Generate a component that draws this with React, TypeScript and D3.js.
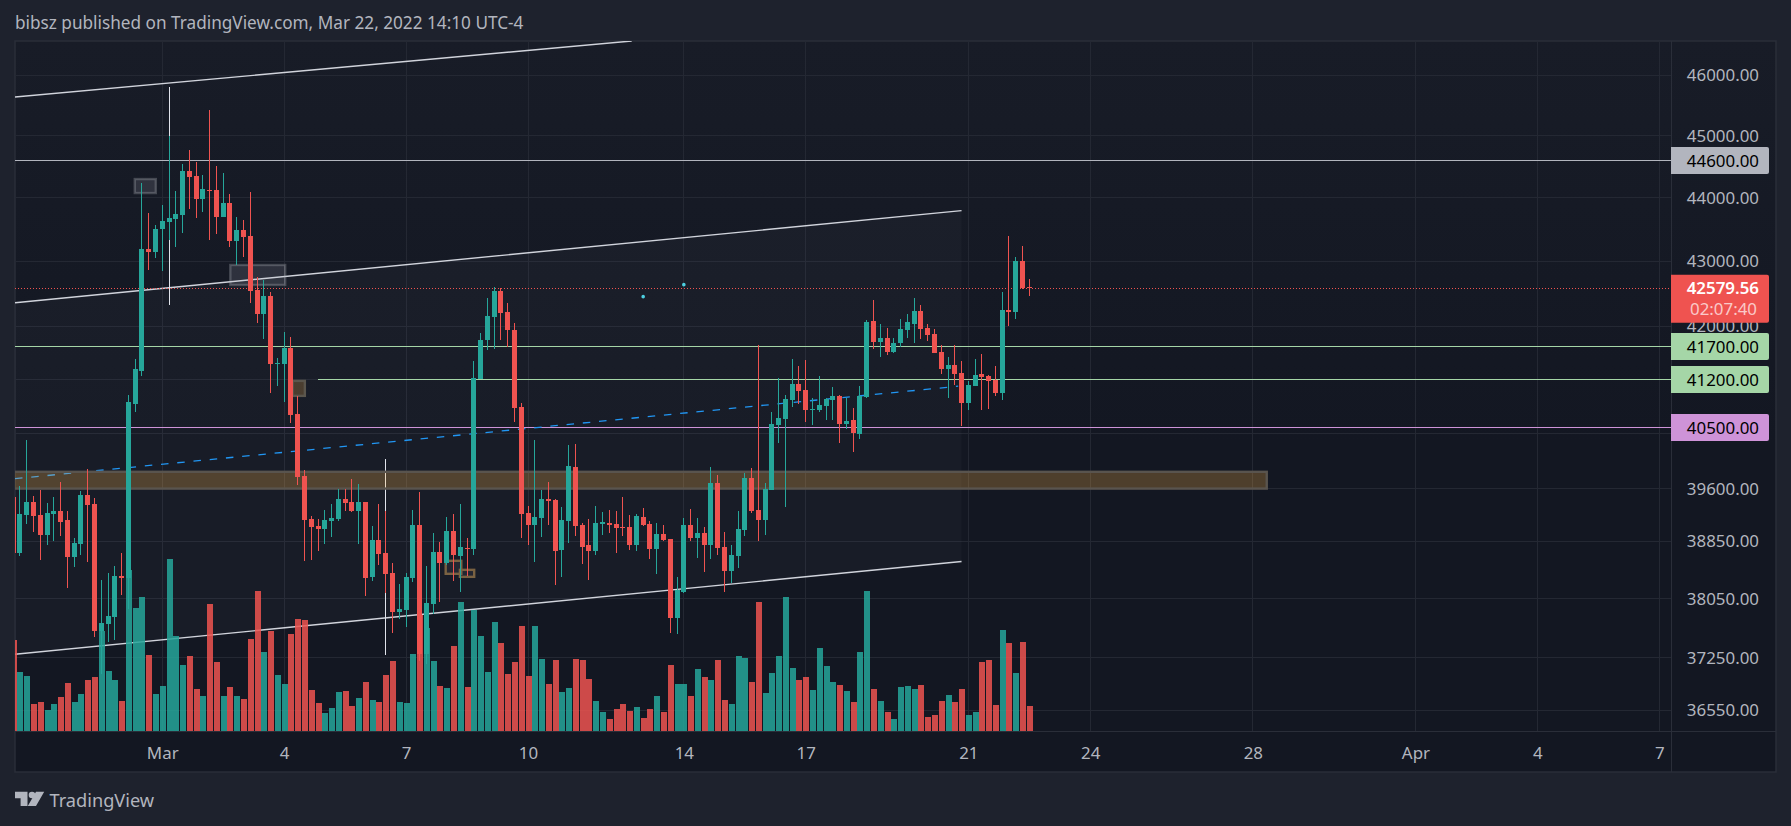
import React, { useEffect, useRef } from "react";
import { axisBottom, axisRight, format, scaleLinear, scaleLog, select } from "d3";

// 4h candles, first one is cut by the left edge of the pane
const opens = [
  39483, 38695, 39227, 39412, 39227, 38944, 39241, 39284, 39156, 38635, 38817, 39512, 39383, 37613, 37709, 37804, 38370, 38342, 40835, 41326,
  43191, 43144, 43505, 43615, 43662, 43726, 44428, 44347, 43980, 44123, 44123, 43694, 43916, 43316, 43489, 43395, 42555, 42187, 42463, 41431,
  41431, 41671, 40687, 39785, 39170, 39071, 39028, 39142, 39170, 39454, 39412, 39284, 39412, 38356, 38873, 38691, 38411, 37872, 37899, 38342,
  39085, 37301, 37982, 38705, 38551, 39000, 38649, 38761, 38747, 41206, 41792, 42141, 42540, 42217, 41943, 40790, 39255, 39085, 39184, 39454,
  39440, 38733, 39142, 39914, 39085, 38803, 38719, 39099, 39113, 39099, 39057, 39057, 38803, 39198, 39099, 38747, 38958, 38887, 37790, 38147,
  39085, 38901, 38972, 38803, 39684, 38775, 38439, 38649, 39014, 39756, 39298, 39156, 39583, 40526, 40614, 40894, 41132, 41042, 40746, 40746,
  40805, 40894, 40953, 40540, 40599, 40394, 40938, 42080, 41761, 41822, 41611, 41746, 41943, 42034, 42233, 41973, 41882, 41611, 41356, 41416,
  41296, 40850, 41102, 41281, 41251, 41191, 40998, 42248, 42217, 43003, 42602,
];
const highs = [
  39511, 39645, 40306, 39497, 39583, 39397, 39483, 39698, 39284, 38901, 39569, 39885, 39469, 38314, 38411, 38509, 38691, 40968, 41506, 44235,
  43758, 43567, 43885, 44995, 44107, 44540, 44767, 44572, 44363, 45421, 44508, 44396, 44059, 43694, 43646, 44091, 42755, 42709, 42524, 41521,
  41913, 41837, 40953, 39871, 39213, 39170, 39298, 39383, 39597, 39597, 39741, 39669, 39412, 39071, 39383, 39284, 38551, 38258, 38411, 39298,
  39554, 38509, 38972, 38845, 39198, 39241, 39383, 38901, 41476, 41898, 42432, 42602, 42586, 42355, 42049, 40850, 39355, 40306, 39583, 39698,
  39454, 39340, 40233, 40248, 39113, 39170, 39355, 39270, 39298, 39284, 39483, 39227, 39241, 39326, 39142, 39113, 39085, 38887, 38356, 39184,
  39312, 39184, 39057, 39914, 39799, 38986, 38803, 39284, 39828, 39900, 41716, 39684, 40716, 41221, 40968, 41506, 41401, 41491, 40924, 41251,
  40924, 41087, 40968, 40924, 40776, 41102, 42095, 42401, 42034, 41973, 41822, 42110, 42187, 42432, 42324, 42034, 41958, 41716, 41536, 41716,
  41476, 41176, 41506, 41581, 41266, 41401, 42524, 43395, 43066, 43238, 42725,
];
const lows = [
  38649, 38640, 39100, 38986, 38593, 38803, 38859, 38929, 38203, 38495, 38663, 38565, 37532, 37032, 37464, 37491, 38106, 37913, 40716, 41251,
  42864, 43050, 42849, 43332, 43222, 43442, 43821, 43678, 43773, 43332, 43426, 43694, 43222, 42941, 43066, 42355, 42049, 41807, 40998, 41102,
  40864, 40555, 39655, 38579, 38593, 38719, 38817, 38915, 39142, 39284, 39270, 38817, 38092, 38300, 38523, 38134, 37586, 37777, 37668, 38286,
  37206, 37166, 37845, 38010, 38523, 38300, 38147, 38370, 38663, 41206, 41641, 41656, 41792, 41686, 40570, 38901, 38803, 38565, 38915, 39085,
  38245, 38356, 38831, 38929, 38537, 38314, 38663, 38944, 38972, 38691, 38929, 38733, 38719, 39071, 38607, 38398, 38859, 37586, 37572, 38134,
  38859, 38621, 38425, 38607, 38663, 38147, 38272, 38481, 38929, 39255, 38859, 38944, 39583, 40262, 39340, 40790, 40835, 40570, 40526, 40716,
  40599, 40599, 40262, 40467, 40131, 40321, 40924, 41656, 41536, 41566, 41596, 41686, 41822, 41746, 41807, 41776, 41596, 41281, 40924, 41117,
  40511, 40746, 41102, 40746, 40761, 40953, 40894, 42004, 42110, 42570, 42463,
];
const closes = [
  38691, 39241, 39412, 39213, 38944, 39255, 39284, 39128, 38635, 38831, 39512, 39369, 37613, 37722, 37817, 38370, 38342, 40864, 41356, 43191,
  43144, 43505, 43630, 43678, 43742, 44428, 44331, 43980, 44139, 44107, 43694, 43916, 43316, 43489, 43379, 42540, 42187, 42463, 41431, 41446,
  41671, 40672, 39770, 39156, 39057, 39028, 39156, 39184, 39454, 39397, 39284, 39412, 38342, 38873, 38677, 38398, 37872, 37913, 38356, 39085,
  37301, 37996, 38705, 38551, 39000, 38663, 38775, 38747, 41221, 41792, 42156, 42540, 42202, 41943, 40776, 39241, 39085, 39198, 39454, 39426,
  38719, 39156, 39929, 39071, 38775, 38719, 39113, 39128, 39085, 39042, 39042, 38803, 39213, 39085, 38747, 38958, 38873, 37790, 38175, 39085,
  38901, 38972, 38803, 39684, 38761, 38439, 38663, 39028, 39756, 39284, 39156, 39597, 40540, 40628, 40909, 41132, 41027, 40746, 40761, 40820,
  40909, 40953, 40540, 40584, 40408, 40953, 42065, 41761, 41822, 41611, 41746, 41958, 42065, 42233, 41958, 41867, 41596, 41356, 41416, 41281,
  40850, 41117, 41266, 41236, 41176, 40998, 42248, 42217, 43003, 42586, 42579.56,
];
const volumes = [
  274, 178, 166, 82, 88, 64, 82, 103, 145, 88, 112, 154, 163, 301, 181, 154, 91, 484, 370, 403,
  229, 112, 136, 517, 286, 199, 226, 127, 106, 382, 208, 106, 133, 106, 97, 277, 421, 238, 301, 169,
  142, 292, 337, 334, 124, 85, 55, 70, 118, 121, 76, 100, 148, 94, 88, 169, 211, 88, 85, 232,
  348, 309, 210, 135, 129, 255, 387, 132, 363, 285, 177, 327, 264, 171, 207, 315, 165, 315, 216, 141,
  213, 117, 129, 216, 213, 156, 90, 57, 36, 66, 81, 60, 72, 39, 66, 105, 57, 198, 141, 141,
  105, 186, 162, 153, 213, 93, 81, 225, 219, 147, 387, 114, 174, 225, 402, 189, 153, 162, 123, 249,
  195, 147, 138, 120, 87, 237, 420, 126, 90, 57, 36, 132, 135, 126, 138, 42, 48, 90, 108, 87,
  126, 48, 57, 207, 213, 78, 303, 264, 174, 267, 75,
];

const priceTicks = [46000, 45000, 44000, 43000, 42000, 39600, 38850, 38050, 37250, 36550];
const gridPrices = [46000, 45000, 44000, 43000, 42000, 41200, 40400, 39600, 38850, 38050, 37250, 36550];
const dateTickBars = [22, 40, 58, 76, 99, 117, 141, 159, 183, 207, 225, 243];
const dateTickLabels = ["Mar", "4", "7", "10", "14", "17", "21", "24", "28", "Apr", "4", "7"];

const lastPrice = 42579.56;
const countdown = "02:07:40";

// drawings on the chart, in bar number and price
const levels = [
  { price: 44600, from: 0, color: "#b2b5be" },
  { price: 41700, from: 0, color: "#a5d6a7" },
  { price: 41200, from: 45, color: "#a5d6a7" },
  { price: 40500, from: 0, color: "#ce93d8" },
];
const trendLines = [
  [0.27, 45635, 91.3, 46570],
  [0.27, 42358, 140, 43795],
  [0.27, 37296, 140, 38569],
];
const channelEdges = [trendLines[1], trendLines[2]];
const dashedTrend = [0.27, 39744, 139.5, 41097];
const verticals = [
  [23, 45797, 42324],
  [55, 40029, 37288],
];
const grayBoxes = [
  [17.8, 21.2, 44315, 44059],
  [31.9, 40.3, 42957, 42617],
];
const brownBoxes = [
  [41.1, 43.2, 41191, 40939],
  [63.7, 66.3, 38593, 38384],
  [65.8, 68.2, 38467, 38342],
];
const supportBand = [-1, 185.2, 39857, 39587];
const dots = [
  [93, 42452],
  [99, 42637],
];

const width = 1791;
const height = 826;
const paneLeft = 15;
const paneTop = 41;
const paneRight = 1671;
const paneBottom = 731;
const axisRightEdge = 1776;
const axisBottomEdge = 772;

const up = "#26a69a";
const down = "#ef5350";
const gridColor = "#242833";
const borderColor = "#2a2e39";
const textColor = "#b2b5be";
const fontFamily = "'Noto Sans', sans-serif";
const axisFontSize = 16.9;

export default function App() {
  const svgRef = useRef<SVGSVGElement | null>(null);

  useEffect(() => {
    const svg = select(svgRef.current);
    svg.selectAll("*").remove();

    const x = scaleLinear().domain([0, 150]).range([13.2, 1029.3]);
    const y = scaleLog().domain([46000, 36550]).range([75, 710]);
    const v = scaleLinear().domain([0, 517]).range([paneBottom, 558.7]);
    const px = (i: number) => Math.round(x(i) - 0.5) + 0.5;

    const defs = svg.append("defs");
    const gradient = defs
      .append("linearGradient")
      .attr("id", "paneBg")
      .attr("x1", 0)
      .attr("x2", 0)
      .attr("y1", 0)
      .attr("y2", 1);
    gradient.append("stop").attr("offset", "0%").attr("stop-color", "#181c27");
    gradient.append("stop").attr("offset", "55%").attr("stop-color", "#131722");
    gradient.append("stop").attr("offset", "100%").attr("stop-color", "#131722");
    defs
      .append("clipPath")
      .attr("id", "pane")
      .append("rect")
      .attr("x", paneLeft)
      .attr("y", paneTop)
      .attr("width", paneRight - paneLeft)
      .attr("height", paneBottom - paneTop);

    svg.append("rect").attr("width", width).attr("height", height).attr("fill", "#1e222d");
    svg
      .append("rect")
      .attr("x", paneLeft)
      .attr("y", paneTop)
      .attr("width", axisRightEdge - paneLeft)
      .attr("height", axisBottomEdge - paneTop)
      .attr("fill", "url(#paneBg)")
      .attr("stroke", borderColor)
      .attr("stroke-width", 1.5);

    svg
      .append("text")
      .attr("x", 15)
      .attr("y", 29)
      .attr("fill", textColor)
      .attr("font-family", fontFamily)
      .attr("font-size", 17.2)
      .text("bibsz published on TradingView.com, Mar 22, 2022 14:10 UTC-4");

    // grid
    const grid = svg.append("g").attr("shape-rendering", "crispEdges").attr("stroke", gridColor);
    grid
      .selectAll("line.h")
      .data(gridPrices)
      .join("line")
      .attr("x1", paneLeft)
      .attr("x2", paneRight)
      .attr("y1", (d) => y(d))
      .attr("y2", (d) => y(d));
    grid
      .selectAll("line.v")
      .data(dateTickBars)
      .join("line")
      .attr("class", "v")
      .attr("x1", (d) => px(d))
      .attr("x2", (d) => px(d))
      .attr("y1", paneTop)
      .attr("y2", paneBottom);

    const chart = svg.append("g").attr("clip-path", "url(#pane)");

    // faint fill of the channel
    const [top, bottom] = channelEdges;
    chart
      .append("polygon")
      .attr(
        "points",
        [
          [x(top[0]), y(top[1])],
          [x(top[2]), y(top[3])],
          [x(bottom[2]), y(bottom[3])],
          [x(bottom[0]), y(bottom[1])],
        ].join(" ")
      )
      .attr("fill", "rgba(178,181,190,0.035)");

    chart
      .selectAll("line.level")
      .data(levels)
      .join("line")
      .attr("x1", (d) => x(d.from))
      .attr("x2", paneRight)
      .attr("y1", (d) => Math.round(y(d.price)) + 0.5)
      .attr("y2", (d) => Math.round(y(d.price)) + 0.5)
      .attr("stroke", (d) => d.color)
      .attr("shape-rendering", "crispEdges");

    chart
      .selectAll("line.trend")
      .data(trendLines)
      .join("line")
      .attr("x1", (d) => x(d[0]))
      .attr("y1", (d) => y(d[1]))
      .attr("x2", (d) => x(d[2]))
      .attr("y2", (d) => y(d[3]))
      .attr("stroke", "#d1d4dc")
      .attr("stroke-width", 1.4);

    chart
      .append("line")
      .attr("x1", x(dashedTrend[0]))
      .attr("y1", y(dashedTrend[1]))
      .attr("x2", x(dashedTrend[2]))
      .attr("y2", y(dashedTrend[3]))
      .attr("stroke", "#2196f3")
      .attr("stroke-width", 1.3)
      .attr("stroke-dasharray", "7.5 8.8");

    chart
      .selectAll("line.vertical")
      .data(verticals)
      .join("line")
      .attr("x1", (d) => px(d[0]))
      .attr("x2", (d) => px(d[0]))
      .attr("y1", (d) => y(d[1]))
      .attr("y2", (d) => y(d[2]))
      .attr("stroke", "#e0e3eb")
      .attr("shape-rendering", "crispEdges");

    const drawBox = (d: number[], fill: string, stroke: string) => {
      chart
        .append("rect")
        .attr("x", x(d[0]) + 1)
        .attr("y", y(d[2]) + 1)
        .attr("width", x(d[1]) - x(d[0]) - 2)
        .attr("height", y(d[3]) - y(d[2]) - 2)
        .attr("fill", fill)
        .attr("stroke", stroke)
        .attr("stroke-width", 2.4);
    };
    grayBoxes.forEach((d) => drawBox(d, "rgba(178,181,190,0.16)", "rgba(178,181,190,0.3)"));
    brownBoxes.forEach((d, i) =>
      drawBox(d, i === 0 ? "rgba(255,183,77,0.22)" : "rgba(120,123,134,0.12)", i === 0 ? "#5b564d" : "#7a6242")
    );
    drawBox(supportBand, "rgba(255,183,77,0.25)", "#59544e");

    chart
      .selectAll("circle.dot")
      .data(dots)
      .join("circle")
      .attr("cx", (d) => x(d[0]))
      .attr("cy", (d) => y(d[1]))
      .attr("r", 1.8)
      .attr("fill", "#4dd0e1");

    // last price line
    chart
      .append("line")
      .attr("x1", paneLeft)
      .attr("x2", paneRight)
      .attr("y1", Math.round(y(lastPrice)) + 0.5)
      .attr("y2", Math.round(y(lastPrice)) + 0.5)
      .attr("stroke", down)
      .attr("stroke-dasharray", "1 2");

    const colorOf = (i: number) => (closes[i] >= opens[i] ? up : down);

    const candles = chart.append("g").attr("shape-rendering", "crispEdges");
    candles
      .selectAll("line")
      .data(opens)
      .join("line")
      .attr("x1", (_, i) => px(i))
      .attr("x2", (_, i) => px(i))
      .attr("y1", (_, i) => y(highs[i]))
      .attr("y2", (_, i) => y(lows[i]))
      .attr("stroke", (_, i) => colorOf(i));
    candles
      .selectAll("rect")
      .data(opens)
      .join("rect")
      .attr("x", (_, i) => px(i) - 2.5)
      .attr("width", 5)
      .attr("y", (_, i) => y(Math.max(opens[i], closes[i])))
      .attr("height", (_, i) => Math.max(1, Math.abs(y(opens[i]) - y(closes[i]))))
      .attr("fill", (_, i) => colorOf(i));

    // volume sits over the candles
    chart
      .append("g")
      .attr("shape-rendering", "crispEdges")
      .attr("fill-opacity", 0.85)
      .selectAll("rect")
      .data(volumes)
      .join("rect")
      .attr("x", (_, i) => px(i) - 3)
      .attr("width", 6)
      .attr("y", (d) => v(d))
      .attr("height", (d) => paneBottom - v(d))
      .attr("fill", (_, i) => colorOf(i));

    // axes
    const styleAxis = (g: any) => {
      g.select(".domain").remove();
      g.selectAll("text")
        .attr("fill", textColor)
        .attr("font-family", fontFamily);
    };
    svg
      .append("g")
      .attr("transform", `translate(${paneRight},0)`)
      .call(
        axisRight(y)
          .tickValues(priceTicks)
          .tickFormat((d) => format(".2f")(d as number))
          .tickSize(0)
      )
      .call(styleAxis)
      .selectAll("text")
      .attr("x", 88)
      .attr("text-anchor", "end")
      .attr("font-size", axisFontSize);

    svg
      .append("g")
      .attr("transform", `translate(0,${paneBottom})`)
      .call(
        axisBottom(scaleLinear().domain(x.domain()).range(x.range()))
          .tickValues(dateTickBars)
          .tickFormat((_, i) => dateTickLabels[i])
          .tickSize(0)
      )
      .call(styleAxis)
      .selectAll("text")
      .attr("y", 16)
      .attr("font-size", axisFontSize);

    svg
      .append("g")
      .attr("shape-rendering", "crispEdges")
      .attr("stroke", borderColor)
      .call((g) => {
        g.append("line")
          .attr("x1", paneLeft)
          .attr("x2", axisRightEdge)
          .attr("y1", paneBottom + 0.5)
          .attr("y2", paneBottom + 0.5);
        g.append("line")
          .attr("x1", paneRight + 0.5)
          .attr("x2", paneRight + 0.5)
          .attr("y1", paneTop)
          .attr("y2", axisBottomEdge);
      });

    // price labels
    const labels = svg.append("g").attr("font-family", fontFamily).attr("font-size", axisFontSize);
    const labelPath = (top: number, h: number) =>
      `M${paneRight},${top}H1767a2,2 0 0 1 2,2V${top + h - 2}a2,2 0 0 1 -2,2H${paneRight}Z`;
    levels.forEach((d) => {
      const cy = Math.round(y(d.price)) + 0.5;
      labels.append("path").attr("d", labelPath(cy - 13.5, 27)).attr("fill", d.color);
      labels
        .append("text")
        .attr("x", 1759)
        .attr("y", cy)
        .attr("dy", "0.36em")
        .attr("text-anchor", "end")
        .attr("fill", "#000")
        .text(format(".2f")(d.price));
    });
    const lastY = y(lastPrice);
    labels.append("path").attr("d", labelPath(lastY - 13.5, 48)).attr("fill", down);
    labels
      .append("text")
      .attr("x", 1759)
      .attr("y", lastY)
      .attr("dy", "0.36em")
      .attr("text-anchor", "end")
      .attr("fill", "#fff")
      .attr("font-weight", 600)
      .text(format(".2f")(lastPrice));
    labels
      .append("text")
      .attr("x", 1757)
      .attr("y", lastY + 21)
      .attr("dy", "0.36em")
      .attr("text-anchor", "end")
      .attr("fill", "rgba(255,255,255,0.7)")
      .text(countdown);

    // logo
    svg
      .append("path")
      .attr("d", "M15,791.7H27.5V806H20.6V798.3H15Z M36,791.7H44.2L36,806H27.8Z")
      .attr("fill", textColor);
    svg.append("circle").attr("cx", 32).attr("cy", 795).attr("r", 3.3).attr("fill", textColor);
    svg
      .append("text")
      .attr("x", 49.5)
      .attr("y", 807)
      .attr("fill", textColor)
      .attr("font-family", fontFamily)
      .attr("font-size", 18.2)
      .text("TradingView");
  }, []);

  return (
    <svg
      ref={svgRef}
      width={width}
      height={height}
      style={{ position: "absolute", left: 0, top: 0, display: "block" }}
    />
  );
}
